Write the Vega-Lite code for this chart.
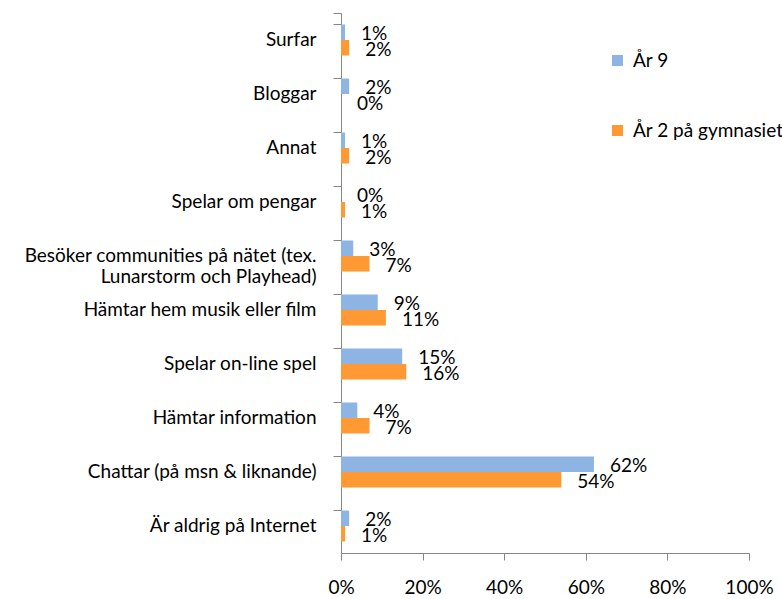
{
  "$schema": "https://vega.github.io/schema/vega-lite/v6.json",
  "width": 408,
  "height": 540,
  "autosize": "none",
  "padding": {"left": 341, "top": 13, "right": 33, "bottom": 46},
  "background": "white",
  "config": {"font": "Lato", "view": {"stroke": null}},
  "data": {
    "values": [
      {"cat": "Surfar", "series": "År 9", "v": 0.01},
      {"cat": "Surfar", "series": "År 2 på gymnasiet", "v": 0.02},
      {"cat": "Bloggar", "series": "År 9", "v": 0.02},
      {"cat": "Bloggar", "series": "År 2 på gymnasiet", "v": 0.0},
      {"cat": "Annat", "series": "År 9", "v": 0.01},
      {"cat": "Annat", "series": "År 2 på gymnasiet", "v": 0.02},
      {"cat": "Spelar om pengar", "series": "År 9", "v": 0.0},
      {"cat": "Spelar om pengar", "series": "År 2 på gymnasiet", "v": 0.01},
      {"cat": "Besöker communities på nätet (tex. Lunarstorm och Playhead)", "series": "År 9", "v": 0.03},
      {"cat": "Besöker communities på nätet (tex. Lunarstorm och Playhead)", "series": "År 2 på gymnasiet", "v": 0.07},
      {"cat": "Hämtar hem musik eller film", "series": "År 9", "v": 0.09},
      {"cat": "Hämtar hem musik eller film", "series": "År 2 på gymnasiet", "v": 0.11},
      {"cat": "Spelar on-line spel", "series": "År 9", "v": 0.15},
      {"cat": "Spelar on-line spel", "series": "År 2 på gymnasiet", "v": 0.16},
      {"cat": "Hämtar information", "series": "År 9", "v": 0.04},
      {"cat": "Hämtar information", "series": "År 2 på gymnasiet", "v": 0.07},
      {"cat": "Chattar (på msn & liknande)", "series": "År 9", "v": 0.62},
      {"cat": "Chattar (på msn & liknande)", "series": "År 2 på gymnasiet", "v": 0.54},
      {"cat": "Är aldrig på Internet", "series": "År 9", "v": 0.02},
      {"cat": "Är aldrig på Internet", "series": "År 2 på gymnasiet", "v": 0.01}
    ]
  },
  "encoding": {
    "y": {
      "field": "cat",
      "type": "nominal",
      "sort": ["Surfar", "Bloggar", "Annat", "Spelar om pengar", "Besöker communities på nätet (tex. Lunarstorm och Playhead)", "Hämtar hem musik eller film", "Spelar on-line spel", "Hämtar information", "Chattar (på msn & liknande)", "Är aldrig på Internet"],
      "scale": {"paddingInner": 0.426, "paddingOuter": 0.213},
      "axis": {
        "title": null,
        "bandPosition": 0,
        "tickExtra": true,
        "tickSize": 8,
        "tickColor": "#868686",
        "domainColor": "#868686",
        "labelFontSize": 19,
        "labelColor": "black",
        "labelPadding": 17,
        "labelLimit": 400,
        "labelExpr": "datum.label == 'Besöker communities på nätet (tex. Lunarstorm och Playhead)' ? ['Besöker communities på nätet (tex.', 'Lunarstorm och Playhead)'] : datum.label"
      }
    },
    "yOffset": {"field": "series", "type": "nominal", "sort": ["År 9", "År 2 på gymnasiet"]},
    "x": {
      "field": "v",
      "type": "quantitative",
      "scale": {"domain": [0, 1]},
      "axis": {
        "title": null,
        "grid": false,
        "values": [0, 0.2, 0.4, 0.6, 0.8, 1],
        "format": ".0%",
        "tickSize": 7,
        "tickColor": "#868686",
        "domainColor": "#868686",
        "labelFontSize": 19,
        "labelColor": "black",
        "labelPadding": 18,
        "labelFlush": false,
        "labelOverlap": false,
        "labelBound": false
      }
    }
  },
  "layer": [
    {
      "mark": {"type": "bar"},
      "encoding": {
        "color": {
          "field": "series",
          "type": "nominal",
          "sort": ["År 9", "År 2 på gymnasiet"],
          "scale": {"domain": ["År 9", "År 2 på gymnasiet"], "range": ["#8DB4E2", "#FF9933"]},
          "legend": {
            "title": null,
            "orient": "none",
            "legendX": 267,
            "legendY": 38,
            "symbolType": "square",
            "symbolSize": 121,
            "symbolStrokeWidth": 0,
            "labelFontSize": 19,
            "labelColor": "black",
            "rowPadding": 50,
            "labelOffset": 6
          }
        }
      }
    },
    {
      "mark": {"type": "text", "align": "left", "baseline": "middle", "dx": 16, "dy": 2, "fontSize": 19, "color": "black"},
      "encoding": {"text": {"field": "v", "type": "quantitative", "format": ".0%"}}
    }
  ]
}
